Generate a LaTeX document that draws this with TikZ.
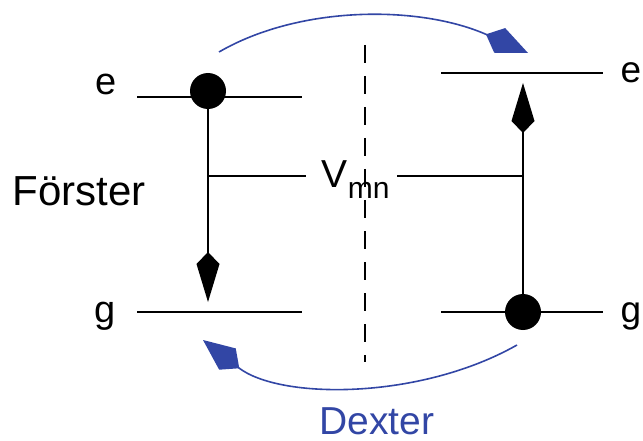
\documentclass[tikz,border=0pt]{standalone}
\usepackage{fontspec}
\setmainfont{Liberation Sans}
\usepackage{xcolor}
\usetikzlibrary{arrows.meta, positioning}
\definecolor{dexterblue}{RGB}{50,70,165}
\def\dotSize{36pt}
\def\levelW{1.6pt}
\newcommand{\fsz}[1]{\fontsize{#1}{#1}\selectfont}

\begin{document}
\begin{tikzpicture}[
    x=1pt, y=-1pt,
    line width=\levelW,
    >={Kite[length=50pt,width=23pt,inset=12pt]},
    dot/.style={circle, fill, inner sep=0pt, minimum size=\dotSize},
    lbl/.style={inner sep=0pt, anchor=base},
    hop/.style={dexterblue, line width=1.6pt, -{Kite[length=46pt,width=27pt,inset=15pt]}}
]
\useasboundingbox (0,0) rectangle (643,441);

% energy levels
\coordinate (eL1) at (137,97);  \coordinate (eL2) at (302,97);
\coordinate (gL1) at (137,312); \coordinate (gL2) at (302,312);
\coordinate (eR1) at (441,73);  \coordinate (eR2) at (603,73);
\coordinate (gR1) at (441,312); \coordinate (gR2) at (603,312);
\draw (eL1) -- (eL2);
\draw (gL1) -- (gL2);
\draw (eR1) -- (eR2);
\draw (gR1) -- (gR2);

% level labels
\node[lbl] (eLtxt) at (106,95) {\fsz{38}e};
\node[lbl] (gLtxt) at (105,322) {\fsz{38}g};
\node[lbl] (eRtxt) at (631,83) {\fsz{37}e};
\node[lbl] (gRtxt) at (631,322) {\fsz{37}g};

% separator
\coordinate (sepTop) at (365,45);
\coordinate (sepBot) at (365,362);
\draw[line width=1.5pt, dash pattern=on 18pt off 13pt] (sepTop) -- (sepBot);

% transitions
\node[dot] (dotL) at (208,91) {};
\node[dot] (dotR) at (523,312) {};
\coordinate (tipL) at (208,302);
\coordinate (tipR) at (523,83);
\draw[->] (dotL.center) -- (tipL);
\draw[->] (dotR.center) -- (tipR);

% coupling
\node[lbl, anchor=base west] (vmn) at (321,188)
    {\fsz{39}V\raisebox{-10pt}{\fsz{30}mn}};
\coordinate (cL1) at (208,176); \coordinate (cL2) at (306,176);
\coordinate (cR1) at (397,176); \coordinate (cR2) at (523,176);
\draw (cL1) -- (cL2);
\draw (cR1) -- (cR2);
\node[lbl, anchor=base west] (forster) at (12,205) {\fsz{42}Förster};

% Dexter hops
\coordinate (hopA) at (219,52);  \coordinate (hopB) at (528,53);
\coordinate (hopC) at (517,345); \coordinate (hopD) at (203,340);
\draw[hop] (hopA) .. controls (300,5) and (420,5) .. (hopB);
\draw[hop] (hopC) .. controls (420,400) and (280,400) .. (hopD);
\node[lbl, dexterblue] (dexter) at (377,434) {\fsz{39}Dexter};
\end{tikzpicture}
\end{document}
